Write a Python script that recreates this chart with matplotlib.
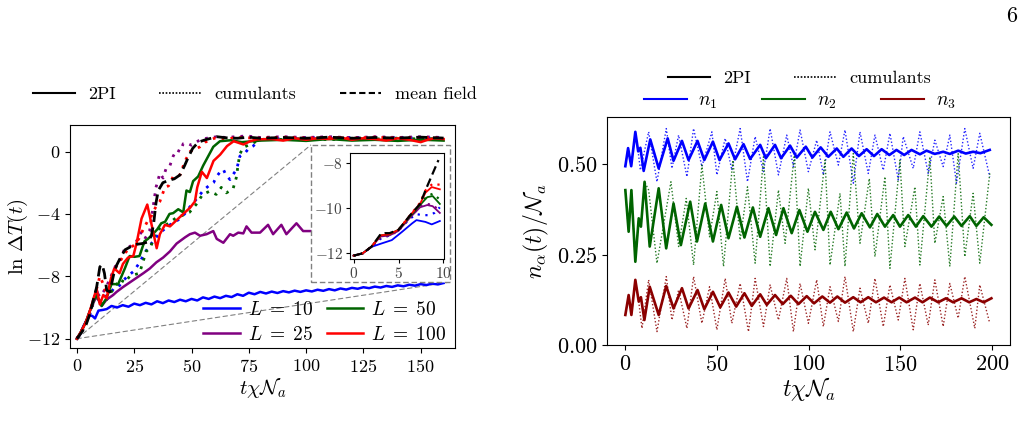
import numpy as np
import matplotlib
matplotlib.use("Agg")
import matplotlib.pyplot as plt
from matplotlib.lines import Line2D
from matplotlib.patches import Rectangle, ConnectionPatch

plt.rcParams['font.family'] = 'serif'
plt.rcParams['font.serif'] = ['cmr10']
plt.rcParams['mathtext.fontset'] = 'cm'
plt.rcParams['axes.formatter.use_mathtext'] = True
plt.rcParams['axes.unicode_minus'] = True

# ---------------- left panel: ln DeltaT(t), (t, value) pairs ----------------
mf = [(0, -12.0), (2, -11.6), (4, -11.1), (5.7, -10.4), (7, -9.6), (8.6, -8.7), (10, -7.4),
      (11, -7.25), (12, -7.8), (13, -8.9), (14.4, -9.0), (16, -7.9), (17.3, -7.3), (19, -6.8),
      (21, -6.3), (23.5, -6.1), (26, -5.95), (28.5, -5.9), (31, -5.8), (32.5, -5.4), (33.5, -4.6),
      (34.5, -3.3), (35.5, -2.5), (37.5, -2.0), (40, -1.85), (42.5, -1.75), (45, -1.5),
      (47, -0.9), (48.5, -0.4), (50.5, 0.2), (53, 0.6), (56, 0.75), (61, 0.95), (65, 0.88),
      (70, 0.85), (75, 0.92), (80, 0.85), (90, 0.9), (100, 0.85), (110, 0.92), (120, 0.85),
      (130, 0.9), (140, 0.86), (150, 0.92), (160, 0.86)]

red_2pi = [(0, -12.0), (2, -11.5), (4, -10.9), (5.7, -10.2), (7.5, -9.3), (8.6, -8.8), (10, -9.8),
           (11.5, -9.2), (13, -9.4), (14.9, -8.1), (16.3, -7.5), (18.6, -7.8), (20.1, -7.2),
           (22.3, -6.8), (24.6, -6.7), (26, -5.9), (28.2, -4.3), (30.7, -3.4), (32.6, -4.7),
           (34.8, -6.2), (36.2, -5.3), (38.4, -4.7), (40.6, -4.8), (43.5, -4.4), (46.4, -4.0),
           (49.4, -3.6), (51.5, -3.2), (52.5, -2.3), (54.5, -1.3), (56.7, -1.7), (59.6, -0.6),
           (62.5, -0.2), (65.5, 0.35), (68.4, 0.66), (72.7, 0.45), (75.6, 0.66), (78.5, 0.78),
           (85, 0.8), (90, 0.7), (95, 0.85), (100, 0.75), (105, 0.85), (110, 0.8), (115, 0.9),
           (120, 0.75), (125, 0.85), (130, 0.8), (135, 0.7), (140, 0.85), (145, 0.75),
           (150, 0.6), (153, 0.75), (156, 0.85), (160, 0.8)]

green_2pi = [(0, -12.0), (2, -11.5), (4, -10.9), (5.7, -10.2), (7.5, -9.5), (8.6, -9.2),
             (10.8, -9.9), (12.9, -9.4), (15.1, -8.5), (18, -8.5), (20.9, -7.5), (23, -6.7),
             (25.2, -6.75), (27.3, -6.7), (29.5, -5.75), (31, -5.6), (33.1, -5.3), (35, -5.0),
             (36.8, -4.6), (38.5, -4.5), (40.4, -4.0), (42, -3.95), (44.2, -3.7), (46.4, -3.9),
             (47.8, -2.5), (49.3, -2.6), (50.7, -1.9), (52.9, -1.6), (55.1, -0.9), (57.3, -0.3),
             (59.5, 0.3), (62.4, 0.66), (67, 0.72), (72, 0.6), (80, 0.7), (90, 0.75),
             (100, 0.68), (110, 0.8), (120, 0.7), (130, 0.75), (140, 0.68), (150, 0.76),
             (160, 0.7)]

purple_2pi = [(0, -12.0), (2, -11.5), (4, -10.9), (5.7, -10.2), (7.5, -9.6), (8.6, -9.3),
              (10.8, -9.9), (12.9, -9.5), (15.8, -9.2), (17.3, -9.0), (20, -8.7), (23, -8.4),
              (26, -8.1), (29, -7.8), (31.8, -7.5), (34.7, -7.1), (37.6, -6.8), (40.6, -6.4),
              (43.5, -5.9), (47.2, -5.5), (49.3, -5.3), (51.5, -5.2), (53.7, -5.4), (56.6, -5.3),
              (59.5, -5.1), (61, -5.6), (63.9, -5.85), (66.8, -5.3), (68.2, -5.4), (70.4, -5.2),
              (72.6, -5.25), (74, -4.8), (76.2, -5.2), (79.9, -5.2), (83.4, -4.7), (85.6, -5.3),
              (89.2, -4.7), (91.4, -5.3), (95.8, -4.6), (98.7, -5.1), (104, -5.1)]

blue_2pi = [(0, -12.0), (1.5, -11.7), (2.8, -11.2), (4.3, -10.8), (5.7, -10.5), (6.8, -10.55),
            (7.9, -10.7), (9.4, -10.2), (11.5, -10.15), (13, -10.1), (15.1, -9.9), (17.5, -10.0),
            (20, -9.85), (22.5, -9.95), (25, -9.75), (27.5, -9.85), (30, -9.7), (32.5, -9.8),
            (35, -9.6), (37.5, -9.72), (40, -9.55), (42.5, -9.65), (45, -9.5), (47.5, -9.6),
            (50, -9.45), (52.5, -9.55), (55, -9.35), (57.5, -9.45), (60, -9.3), (62.5, -9.4),
            (65, -9.25), (67.5, -9.33), (70, -9.15), (72.5, -9.25), (75, -9.05), (77.5, -9.15),
            (80, -9.0), (82.5, -9.1), (85, -8.98), (87.5, -9.07), (90, -8.95), (92.5, -9.03),
            (95, -8.92), (97.5, -9.0), (100, -8.9), (102.5, -8.97), (105, -8.86), (107.5, -8.93),
            (110, -8.82), (112.5, -8.9), (115, -8.78), (117.5, -8.85), (120, -8.74),
            (122.5, -8.8), (125, -8.7), (127.5, -8.76), (130, -8.66), (132.5, -8.72),
            (135, -8.62), (137.5, -8.68), (140, -8.58), (142.5, -8.64), (145, -8.54),
            (147.5, -8.6), (150, -8.5), (152.5, -8.56), (155, -8.47), (157.5, -8.52),
            (160, -8.43)]

red_cum = [(0, -12.0), (2, -11.5), (4, -10.9), (5.7, -10.3), (7.5, -9.4), (8.6, -8.8), (10, -8.0),
           (11.5, -8.5), (13, -9.2), (15, -8.2), (17, -7.4), (19, -7.0), (21, -6.5), (23, -6.2),
           (25, -6.0), (27, -5.6), (28.9, -5.0), (30.7, -4.5), (32, -4.3), (33.5, -3.8),
           (35, -3.4), (36.2, -3.2), (38.4, -2.3), (40, -2.2), (42, -1.6), (45, -1.5),
           (47.2, -0.6), (49.4, 0.0), (53.7, 0.3), (56, 0.6), (60, 0.85), (65, 0.8), (70, 0.9),
           (80, 0.85), (90, 0.92), (100, 0.86), (110, 0.9), (120, 0.85), (130, 0.92),
           (140, 0.86), (150, 0.9), (160, 0.86)]

green_cum = [(0, -12.0), (2, -11.6), (4, -11.0), (5.7, -10.3), (7.5, -9.6), (9, -9.3),
             (11, -9.8), (13, -9.5), (15, -9.0), (17, -8.6), (18.7, -8.2), (21, -8.4),
             (23, -8.0), (25, -7.9), (27.3, -7.8), (29, -7.0), (30.2, -6.4), (32, -6.2),
             (34.5, -5.1), (36.5, -4.9), (38.9, -4.7), (41, -4.5), (43.3, -4.25), (46, -4.1),
             (49.1, -3.9), (52, -3.4), (54.9, -2.75), (57.9, -2.55), (60.8, -2.75), (63, -2.3),
             (65.2, -2.65), (68.1, -2.4), (69.5, -1.7), (71, -0.2), (72.5, 0.25), (75.4, 0.45),
             (79.8, 0.75), (85, 0.85), (90, 0.75), (100, 0.85), (110, 0.75), (120, 0.85),
             (130, 0.8), (140, 0.86), (150, 0.8), (160, 0.85)]

blue_cum = [(0, -12.0), (2, -11.6), (4, -11.0), (5.7, -10.4), (7.5, -9.5), (8.6, -8.9),
            (10, -9.6), (12, -9.3), (14, -9.2), (16, -8.8), (18, -8.7), (20.1, -8.3), (22, -8.0),
            (24.6, -7.7), (27, -7.2), (30, -6.4), (33, -5.8), (36.2, -5.2), (38, -5.0),
            (40.6, -4.7), (43, -4.5), (45, -4.3), (47, -4.0), (49, -3.6), (50.7, -3.3),
            (53, -2.9), (55.1, -2.5), (57.5, -2.2), (59.6, -2.0), (61, -1.6), (62.5, -1.3),
            (63.9, -1.15), (65, -1.5), (66.8, -1.8), (68, -1.5), (69.7, -1.15), (71.1, -0.3),
            (73.3, -0.1), (75, 0.2), (76.9, 0.35), (79.8, 0.75), (85, 0.85), (90, 0.8),
            (100, 0.9), (110, 0.85), (120, 0.9), (130, 0.85), (140, 0.9), (150, 0.85),
            (160, 0.9)]

purple_cum = [(0, -12.0), (2, -11.5), (4, -10.9), (5.7, -10.3), (7.5, -9.5), (8.6, -9.0),
              (10, -9.3), (12, -8.9), (14, -8.3), (16, -7.6), (17.3, -7.2), (19, -6.9),
              (20.9, -6.2), (23, -6.1), (26, -5.75), (28, -5.2), (29.6, -5.6), (31.7, -5.1),
              (33, -3.8), (34.5, -2.3), (36.2, -1.4), (37.6, -1.7), (39.1, -1.0), (40.6, -0.9),
              (42, -0.3), (43.5, 0.1), (45, 0.0), (46.4, 0.5), (47.9, 0.55), (50, 0.4),
              (53.7, 0.75), (56.6, 0.85), (61, 0.95), (65, 0.9), (74, 1.0), (80, 0.9),
              (90, 0.95), (100, 0.9), (110, 0.95), (120, 0.88), (130, 0.95), (140, 0.9),
              (150, 0.95), (160, 0.9)]

# ---------------- inset: early times ----------------
in_mf = [(0, -12.1), (1, -12.0), (2, -11.7), (3, -11.15), (3.5, -11.1), (4, -11.1), (5, -10.95),
         (6.3, -10.3), (7.4, -9.8), (8.1, -9.1), (9.45, -7.85)]
in_red_2pi = [(0, -12.1), (1, -12.0), (2, -11.7), (3, -11.2), (4, -11.15), (5, -10.95),
              (6.3, -10.3), (7.4, -9.8), (8.0, -9.3), (8.7, -9.05), (9.6, -9.15)]
in_red_cum = [(0, -12.1), (1, -12.0), (2, -11.7), (3, -11.2), (4, -11.15), (5, -10.95),
              (6.3, -10.3), (7.4, -9.75), (8.0, -9.2), (8.8, -8.9), (9.6, -8.95)]
in_green_2pi = [(0, -12.1), (1, -12.0), (2, -11.7), (3, -11.2), (4, -11.15), (5, -10.95),
                (6.3, -10.35), (7.4, -9.85), (8.2, -9.5), (8.8, -9.45), (9.6, -9.8)]
in_green_cum = [(0, -12.1), (1, -12.0), (2, -11.7), (3, -11.25), (4, -11.15), (5, -10.95),
                (6.3, -10.35), (7.4, -9.8), (8.2, -9.45), (8.8, -9.35), (9.6, -9.6)]
in_purple_2pi = [(0, -12.1), (1, -12.0), (2, -11.7), (3, -11.25), (4, -11.2), (5, -11.0),
                 (6.3, -10.4), (7.4, -9.95), (8.2, -9.85), (8.8, -9.9), (9.6, -10.2)]
in_purple_cum = [(0, -12.1), (1, -12.0), (2, -11.7), (3, -11.3), (4, -11.2), (5, -11.0),
                 (6.3, -10.4), (7.4, -9.9), (8.2, -9.8), (8.8, -9.85), (9.6, -10.1)]
in_blue_2pi = [(0, -12.1), (1, -12.0), (2, -11.71), (3.1, -11.56), (4.25, -11.41),
               (5.4, -11.04), (6.5, -10.67), (7.0, -10.52), (8.0, -10.6), (8.7, -10.71),
               (9.6, -10.56)]
in_blue_cum = [(0, -12.1), (1, -12.0), (2, -11.7), (3, -11.35), (4, -11.2), (5, -10.95),
               (6.3, -10.45), (7.0, -10.25), (7.6, -10.3), (8.4, -10.3), (9.0, -10.2),
               (9.6, -9.95)]

# ---------------- right panel: n_alpha(t)/N_a ----------------
n1_2pi = [(0, 0.494), (1.5, 0.544), (3.2, 0.494), (5.45, 0.589), (7.0, 0.535), (8.2, 0.545),
          (10.0, 0.481), (13.6, 0.568), (18.2, 0.488), (23.1, 0.571), (26.3, 0.509),
          (30.9, 0.564), (34.5, 0.511), (39.4, 0.564), (43.1, 0.511), (47.8, 0.562),
          (51.4, 0.511), (56.3, 0.557), (59.9, 0.513), (64.5, 0.555), (68.1, 0.514),
          (73.6, 0.553), (76.7, 0.516), (81.7, 0.553), (85.0, 0.516), (89.9, 0.551),
          (93.6, 0.518), (98.5, 0.548), (102.1, 0.518), (106.6, 0.546), (110.8, 0.520),
          (115.4, 0.543), (119.0, 0.520), (123.5, 0.543), (127.5, 0.522), (131.7, 0.541),
          (135.7, 0.522), (139.9, 0.541), (144.1, 0.525), (148.0, 0.539), (152.2, 0.525),
          (156.2, 0.539), (160.8, 0.527), (164.4, 0.537), (168.9, 0.528), (173.5, 0.534),
          (177.1, 0.528), (181.7, 0.537), (185.8, 0.529), (189.8, 0.534), (193.8, 0.530),
          (198.9, 0.539)]

n2_2pi = [(0, 0.428), (1.8, 0.313), (3.3, 0.428), (5.45, 0.230), (7.3, 0.350), (8.5, 0.327),
          (10.5, 0.451), (13.3, 0.272), (18.2, 0.433), (22.3, 0.267), (26.3, 0.391),
          (30.3, 0.276), (35.4, 0.396), (39.1, 0.286), (43.6, 0.391), (47.8, 0.286),
          (52.3, 0.387), (56.3, 0.295), (60.9, 0.382), (65.0, 0.297), (69.6, 0.380),
          (73.6, 0.299), (78.1, 0.378), (82.3, 0.304), (86.3, 0.378), (90.8, 0.309),
          (95.0, 0.373), (99.4, 0.313), (103.5, 0.368), (108.1, 0.318), (112.1, 0.368),
          (116.3, 0.320), (120.8, 0.366), (124.8, 0.322), (129.0, 0.364), (133.5, 0.325),
          (137.5, 0.362), (141.7, 0.327), (146.2, 0.359), (149.9, 0.327), (154.4, 0.359),
          (158.6, 0.327), (162.6, 0.356), (167.1, 0.327), (171.3, 0.355), (175.3, 0.329),
          (179.5, 0.355), (183.5, 0.329), (188.0, 0.356), (191.6, 0.329), (195.6, 0.353),
          (199.8, 0.332)]

n3_2pi = [(0, 0.083), (1.8, 0.138), (3.3, 0.083), (5.45, 0.180), (7.3, 0.120), (8.5, 0.132),
          (10.4, 0.069), (13.3, 0.161), (18.2, 0.083), (22.3, 0.163), (26.3, 0.101),
          (30.9, 0.157), (34.5, 0.101), (39.4, 0.152), (43.1, 0.099), (47.8, 0.147),
          (51.8, 0.104), (56.3, 0.145), (60.5, 0.106), (65.0, 0.143), (69.0, 0.108),
          (73.6, 0.140), (77.2, 0.111), (81.7, 0.138), (85.9, 0.113), (90.3, 0.136),
          (94.5, 0.113), (99.0, 0.135), (103.0, 0.115), (107.5, 0.134), (111.7, 0.117),
          (115.7, 0.134), (119.9, 0.117), (124.4, 0.132), (128.4, 0.118), (132.6, 0.132),
          (136.8, 0.118), (141.2, 0.131), (145.3, 0.118), (149.5, 0.131), (153.5, 0.118),
          (158.1, 0.131), (162.2, 0.118), (166.2, 0.131), (170.8, 0.118), (175.0, 0.129),
          (178.9, 0.118), (183.5, 0.129), (187.7, 0.118), (191.6, 0.127), (195.6, 0.118),
          (199.8, 0.129)]

n1_cum = [(0, 0.494), (1.5, 0.544), (3.2, 0.494), (5.45, 0.589), (7.0, 0.535), (8.18, 0.483),
          (12.72, 0.589), (17.26, 0.451), (22.35, 0.598), (25.43, 0.488), (29.07, 0.580),
          (33.61, 0.465), (37.24, 0.598), (41.78, 0.493), (47.23, 0.589), (49.96, 0.470),
          (54.50, 0.571), (58.13, 0.483), (62.67, 0.598), (66.67, 0.451), (70.85, 0.576),
          (75.39, 0.479), (79.02, 0.598), (83.56, 0.470), (88.10, 0.580), (91.74, 0.493),
          (95.37, 0.594), (99.91, 0.479), (104.45, 0.566), (108.09, 0.470), (111.72, 0.589),
          (116.26, 0.497), (119.89, 0.594), (124.43, 0.447), (128.07, 0.589), (132.61, 0.474),
          (136.24, 0.580), (140.78, 0.483), (144.42, 0.585), (148.96, 0.456), (151.68, 0.576),
          (157.13, 0.488), (160.76, 0.589), (165.31, 0.474), (168.94, 0.566), (173.48, 0.493),
          (177.11, 0.580), (180.75, 0.447), (185.29, 0.598), (189.83, 0.488), (193.46, 0.585),
          (198.91, 0.465)]

n2_cum = [(0, 0.428), (1.8, 0.313), (3.3, 0.428), (5.45, 0.230), (7.3, 0.350), (8.5, 0.327),
          (10.5, 0.451), (12.72, 0.428), (17.26, 0.226), (24.89, 0.451), (29.07, 0.272),
          (33.24, 0.405), (37.24, 0.221), (41.78, 0.497), (45.96, 0.299), (49.96, 0.424),
          (53.59, 0.217), (58.68, 0.511), (62.67, 0.290), (66.67, 0.437), (70.85, 0.226),
          (75.39, 0.520), (79.02, 0.217), (83.56, 0.428), (87.20, 0.281), (92.28, 0.529),
          (95.37, 0.217), (99.91, 0.433), (103.54, 0.263), (108.99, 0.511), (111.72, 0.221),
          (117.17, 0.419), (119.89, 0.217), (124.43, 0.529), (128.07, 0.281), (133.15, 0.460),
          (136.24, 0.244), (141.69, 0.465), (144.42, 0.212), (149.87, 0.511), (152.59, 0.272),
          (158.04, 0.437), (160.76, 0.221), (166.21, 0.520), (168.94, 0.281), (173.48, 0.410),
          (177.11, 0.217), (181.66, 0.529), (185.29, 0.244), (189.83, 0.419), (193.46, 0.226),
          (198.91, 0.474)]

n3_cum = [(0, 0.083), (1.8, 0.138), (3.3, 0.083), (5.45, 0.180), (7.3, 0.120), (9.08, 0.046),
          (12.72, 0.180), (17.26, 0.037), (22.35, 0.189), (25.43, 0.069), (29.07, 0.152),
          (33.61, 0.046), (37.24, 0.189), (41.78, 0.060), (45.96, 0.161), (49.96, 0.042),
          (54.50, 0.184), (58.13, 0.060), (62.67, 0.170), (67.21, 0.037), (70.85, 0.184),
          (75.39, 0.051), (79.02, 0.166), (83.56, 0.069), (88.10, 0.184), (91.74, 0.037),
          (95.37, 0.170), (99.91, 0.060), (104.45, 0.180), (108.09, 0.051), (111.72, 0.161),
          (116.26, 0.065), (119.89, 0.189), (124.43, 0.037), (128.07, 0.157), (132.61, 0.060),
          (136.24, 0.184), (140.78, 0.051), (144.42, 0.166), (148.96, 0.069), (152.59, 0.184),
          (157.13, 0.042), (160.76, 0.170), (165.31, 0.055), (168.94, 0.180), (173.48, 0.051),
          (177.11, 0.170), (181.66, 0.074), (185.29, 0.189), (190.74, 0.046), (193.46, 0.166),
          (198.91, 0.060)]


def xy(pairs):
    a = np.array(pairs)
    return a[:, 0], a[:, 1]


fig = plt.figure(figsize=(10.24, 4.34), dpi=100)

# ---- left ----
ax = fig.add_axes([0.0684, 0.198, 0.376, 0.514])
lw = 1.8
for data, c in [(blue_cum, 'blue'), (green_cum, 'darkgreen'), (purple_cum, 'purple'), (red_cum, 'red')]:
    ax.plot(*xy(data), color=c, ls=(0, (1, 2.2)), lw=2.0, zorder=2)
ax.plot(*xy(blue_2pi), color='blue', lw=lw, label=r'$L\;=\;10$', zorder=3)
ax.plot(*xy(purple_2pi), color='purple', lw=lw, label=r'$L\;=\;25$', zorder=3)
ax.plot(*xy(green_2pi), color='darkgreen', lw=lw, label=r'$L\;=\;50$', zorder=3)
ax.plot(*xy(red_2pi), color='red', lw=lw, label=r'$L\;=\;100$', zorder=3)
ax.plot(*xy(mf), color='black', ls=(0, (4, 2)), lw=2.0, zorder=4)

ax.set_xlim(-3, 165)
ax.set_ylim(-12.6, 1.7)
ax.set_xticks([0, 25, 50, 75, 100, 125, 150])
ax.set_yticks([0, -4, -8, -12])
ax.tick_params(labelsize=13)
ax.set_xlabel(r'$t\chi\mathcal{N}_a$', fontsize=15, labelpad=1)
ax.set_ylabel(r'$\ln\,\Delta T(t)$', fontsize=15, labelpad=-2)
ax.legend(loc='lower right', ncol=2, frameon=False, fontsize=14, handlelength=1.9,
          columnspacing=0.7, handletextpad=0.4, labelspacing=0.35,
          borderaxespad=0.05, bbox_to_anchor=(1.0, -0.02))

# zoom box and connecting lines
box = Rectangle((0.625, 0.296), 0.362, 0.614, transform=ax.transAxes, facecolor='white',
                edgecolor='gray', ls=(0, (4, 2)), lw=1.0, zorder=6)
ax.add_patch(box)
for corner in [(0.625, 0.910), (0.987, 0.296)]:
    con = ConnectionPatch(xyA=(0, -12), coordsA=ax.transData, xyB=corner,
                          coordsB=ax.transAxes, color='gray', ls=(0, (4, 3)), lw=0.8)
    con.set_zorder(1)
    ax.add_artist(con)

axin = fig.add_axes([0.3418, 0.4032, 0.0921, 0.2435])
axin.set_zorder(10)
ilw = 1.3
for data, c in [(in_blue_cum, 'blue'), (in_purple_cum, 'purple'), (in_green_cum, 'darkgreen'), (in_red_cum, 'red')]:
    axin.plot(*xy(data), color=c, ls=(0, (1, 2.5)), lw=1.6)
for data, c in [(in_blue_2pi, 'blue'), (in_purple_2pi, 'purple'), (in_green_2pi, 'darkgreen'), (in_red_2pi, 'red')]:
    axin.plot(*xy(data), color=c, lw=ilw)
axin.plot(*xy(in_mf), color='black', ls=(0, (4, 2)), lw=1.6)
axin.set_xlim(-0.4, 10.1)
axin.set_ylim(-12.25, -7.55)
axin.set_xticks([0, 5, 10])
axin.set_yticks([-8, -10, -12])
axin.tick_params(labelsize=11, length=3, pad=2, labelcolor='#444444')

# ---- right ----
ax2 = fig.add_axes([0.5928, 0.2051, 0.3936, 0.5253])
for data, c in [(n1_cum, 'blue'), (n2_cum, 'darkgreen'), (n3_cum, 'darkred')]:
    ax2.plot(*xy(data), color=c, ls=(0, (1, 1.5)), lw=1.0, alpha=0.85)
for data, c in [(n1_2pi, 'blue'), (n2_2pi, 'darkgreen'), (n3_2pi, 'darkred')]:
    ax2.plot(*xy(data), color=c, lw=1.9, solid_joinstyle='round')
ax2.set_xlim(-10, 210)
ax2.set_ylim(0, 0.63)
ax2.set_xticks([0, 50, 100, 150, 200])
ax2.set_yticks([0, 0.25, 0.5])
ax2.yaxis.set_major_formatter(matplotlib.ticker.FormatStrFormatter(r'$%.2f$'))
ax2.tick_params(labelsize=16)
ax2.set_xlabel(r'$t\chi\mathcal{N}_a$', fontsize=17, labelpad=0)
ax2.set_ylabel(r'$n_\alpha(t)/\mathcal{N}_a$', fontsize=17, labelpad=4)

# ---- legends ----
style_handles = [Line2D([], [], color='black', lw=1.5, ls='-'),
                 Line2D([], [], color='black', lw=1.2, ls=(0, (1, 1))),
                 Line2D([], [], color='black', lw=1.5, ls=(0, (3, 1.6)))]
fig.legend(style_handles, ['2PI', 'cumulants', 'mean field'], loc='center',
           bbox_to_anchor=(0.249, 0.783), ncol=3, frameon=False, fontsize=13,
           handlelength=2.3, columnspacing=2.4, handletextpad=0.75)

fig.legend(style_handles[:2], ['2PI', 'cumulants'], loc='center',
           bbox_to_anchor=(0.781, 0.820), ncol=2, frameon=False, fontsize=13,
           handlelength=2.3, columnspacing=2.4, handletextpad=0.75, borderpad=0.1)
n_handles = [Line2D([], [], color=c, lw=1.5) for c in ['blue', 'darkgreen', 'darkred']]
fig.legend(n_handles, [r'$n_1$', r'$n_2$', r'$n_3$'], loc='center',
           bbox_to_anchor=(0.781, 0.767), ncol=3, frameon=False, fontsize=14,
           handlelength=2.2, columnspacing=2.3, handletextpad=0.6, borderpad=0.1)

fig.text(0.993, 0.963, '6', fontsize=16, ha='right', va='center')

fig.savefig('out.png', dpi=100)
